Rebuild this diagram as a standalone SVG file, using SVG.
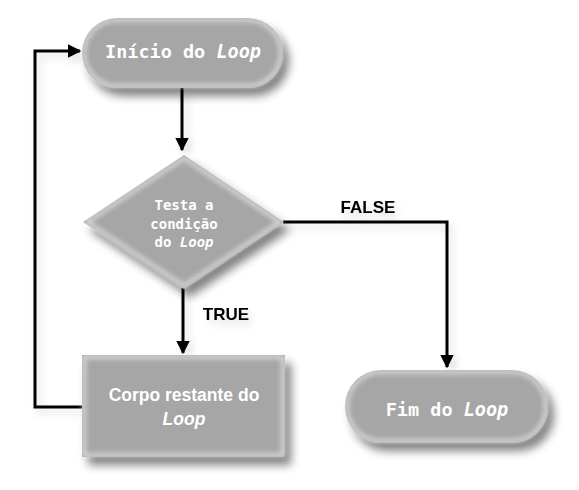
<svg xmlns="http://www.w3.org/2000/svg" width="579" height="490" viewBox="0 0 579 490">
<defs>
<filter id="sh" x="-20%" y="-20%" width="150%" height="160%">
<feGaussianBlur in="SourceAlpha" stdDeviation="5"/>
<feOffset dx="6" dy="8" result="b"/>
<feComponentTransfer><feFuncA type="linear" slope="0.5"/></feComponentTransfer>
<feMerge><feMergeNode/><feMergeNode in="SourceGraphic"/></feMerge>
</filter>
<filter id="lsh" x="-20%" y="-20%" width="150%" height="150%">
<feGaussianBlur in="SourceAlpha" stdDeviation="4"/>
<feOffset dx="4" dy="5"/>
<feComponentTransfer><feFuncA type="linear" slope="0.15"/></feComponentTransfer>
<feMerge><feMergeNode/><feMergeNode in="SourceGraphic"/></feMerge>
</filter>
<filter id="bev" x="-5%" y="-5%" width="110%" height="110%">
<feGaussianBlur in="SourceGraphic" stdDeviation="2.5"/>
</filter>
<marker id="ah" viewBox="0 0 10 10" refX="9" refY="5" markerWidth="4.5" markerHeight="4.5" orient="auto">
<path d="M0,0 L10,5 L0,10 z" fill="#000"/>
</marker>
</defs>
<style>
.node{fill:#a6a6a6;}
.edge{fill:none;stroke:#fff;stroke-width:3;opacity:0.75;}
.mono{font-family:"DejaVu Sans Mono","Liberation Mono",monospace;font-weight:bold;fill:#fff;text-anchor:middle;}
.sans{font-family:"Liberation Sans",Arial,sans-serif;font-weight:bold;fill:#fff;text-anchor:middle;}
.lbl{font-family:"Liberation Sans",Arial,sans-serif;font-weight:bold;fill:#000;text-anchor:middle;font-size:17px;}
.conn{fill:none;stroke:#000;stroke-width:3;marker-end:url(#ah);}
</style>
<rect width="579" height="490" fill="#fff"/>
<g id="connectors" filter="url(#lsh)">
<path class="conn" d="M182,88 V150"/>
<path class="conn" d="M183,288 V353"/>
<path class="conn" d="M283,222 H447 V367"/>
<path class="conn" d="M82,407 H35 V51 H80"/>
<text class="lbl" x="368" y="213">FALSE</text>
<text class="lbl" x="226" y="320">TRUE</text>
</g>
<g id="inicio">
<rect class="node" x="82" y="18" width="201" height="70" rx="35" filter="url(#sh)"/>
<rect class="edge" x="84" y="20" width="197" height="66" rx="33" filter="url(#bev)"/>
<text class="mono" x="183" y="58" font-size="18.5"><tspan>Início do </tspan><tspan font-style="italic">Loop</tspan></text>
</g>
<g id="teste">
<polygon class="node" points="184,155 284,222 184,289 83,222" filter="url(#sh)"/>
<polygon class="edge" points="184,158 280,222 184,286 87,222" filter="url(#bev)"/>
<text class="mono" x="184" y="210" font-size="14">Testa a</text>
<text class="mono" x="184" y="229" font-size="14">condição</text>
<text class="mono" x="184" y="247" font-size="14"><tspan>do </tspan><tspan font-style="italic">Loop</tspan></text>
</g>
<g id="corpo">
<rect class="node" x="82" y="355" width="203" height="102" filter="url(#sh)"/>
<rect class="edge" x="84" y="357" width="199" height="98" filter="url(#bev)"/>
<text class="sans" x="184" y="401" font-size="17.5">Corpo restante do</text>
<text class="sans" x="184" y="425" font-size="17.5" font-style="italic">Loop</text>
</g>
<g id="fim">
<rect class="node" x="345" y="370" width="203" height="73" rx="36" filter="url(#sh)"/>
<rect class="edge" x="347" y="372" width="199" height="69" rx="34" filter="url(#bev)"/>
<text class="mono" x="447" y="416" font-size="18.5"><tspan>Fim do </tspan><tspan font-style="italic">Loop</tspan></text>
</g>
</svg>
